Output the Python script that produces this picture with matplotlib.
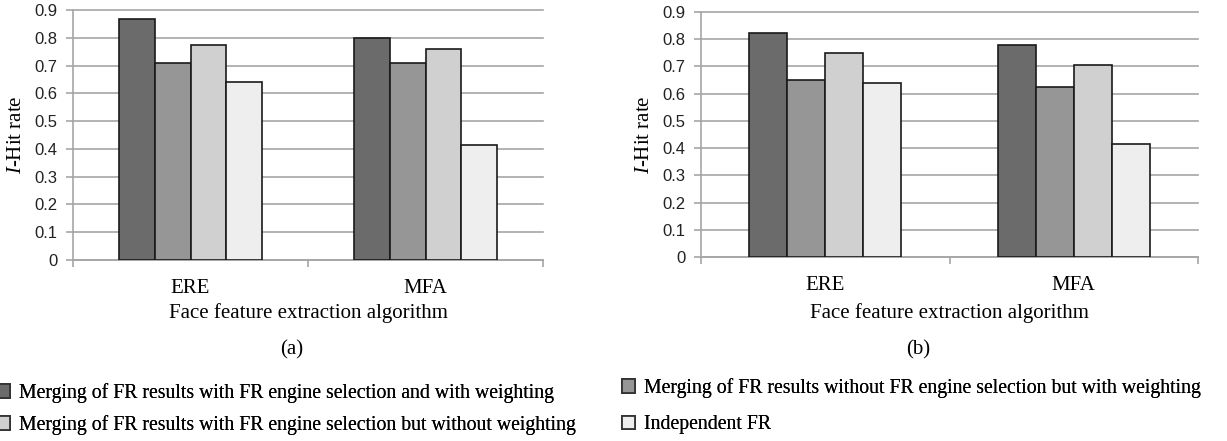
import matplotlib
matplotlib.use("Agg")
import matplotlib.pyplot as plt
from matplotlib.patches import Patch
import numpy as np

categories = ["ERE", "MFA"]
series_names = [
    "Merging of FR results with FR engine selection and with weighting",
    "Merging of FR results without FR engine selection but with weighting",
    "Merging of FR results with FR engine selection but without weighting",
    "Independent FR",
]
values_a = [
    [0.868, 0.800],
    [0.708, 0.708],
    [0.774, 0.758],
    [0.640, 0.415],
]
values_b = [
    [0.823, 0.778],
    [0.652, 0.623],
    [0.750, 0.705],
    [0.640, 0.415],
]
yticks = [0, 0.1, 0.2, 0.3, 0.4, 0.5, 0.6, 0.7, 0.8, 0.9]
ytick_labels = ["0", "0.1", "0.2", "0.3", "0.4", "0.5", "0.6", "0.7", "0.8", "0.9"]
colors = ["#6b6b6b", "#969696", "#d0d0d0", "#eeeeee"]

plt.rcParams["mathtext.fontset"] = "custom"
plt.rcParams["mathtext.it"] = "Liberation Serif:italic"
plt.rcParams["mathtext.rm"] = "Liberation Serif"

W, H = 1227, 441
fig = plt.figure(figsize=(W / 100, H / 100), dpi=100)

SERIF = "Liberation Serif"
SANS = "Liberation Sans"
GRID = "#a6a6a6"
PT = 72 / 100  # points per pixel

def px_axes(x0, x1, ytop, ybot):
    return [x0 / W, 1 - ybot / H, (x1 - x0) / W, (ybot - ytop) / H]

def draw(ax, values):
    n = len(values)
    bw = 0.1525
    x = np.arange(len(categories))
    for i, vals in enumerate(values):
        ax.bar(x + (i - (n - 1) / 2) * bw, vals, width=bw, color=colors[i],
               edgecolor="#1a1a1a", linewidth=1.2, zorder=3)
    ax.set_xlim(-0.5, len(categories) - 0.5)
    ax.set_ylim(0, 0.9)
    ax.set_yticks(yticks)
    ax.set_yticklabels(ytick_labels, fontfamily=SANS, fontsize=12)
    for s in ["top", "right"]:
        ax.spines[s].set_visible(False)
    for s in ["left", "bottom"]:
        ax.spines[s].set_color(GRID)
        ax.spines[s].set_linewidth(1.2)
    ax.yaxis.grid(True, color=GRID, linewidth=1.2, zorder=0)
    for gl in ax.get_ygridlines():
        gl.set_clip_on(False)
    ax.set_axisbelow(True)
    ax.tick_params(axis="y", length=5, color=GRID, width=1.2, pad=6, labelcolor="#222222")
    ax.set_xticks(x)
    ax.set_xticklabels(categories, fontfamily=SERIF, fontsize=15)
    ax.tick_params(axis="x", length=0, pad=19 * PT)
    ax.set_xticks(np.arange(-0.5, len(categories)), minor=True)
    ax.tick_params(axis="x", which="minor", length=7 * PT, color=GRID, width=1.2, direction="out")
    ax.set_ylabel(r"$\mathit{I}$-Hit rate", fontfamily=SERIF, fontsize=15, labelpad=6)
    pos = ax.get_position()
    fig.text((pos.x0 + pos.x1) / 2, 1 - 318 / H, "Face feature extraction algorithm",
             fontfamily=SERIF, fontsize=15, ha="center", va="baseline")

ax1 = fig.add_axes(px_axes(73, 543, 10, 260))
draw(ax1, values_a)
ax2 = fig.add_axes(px_axes(701, 1198, 12, 257))
draw(ax2, values_b)

fig.text(292 / W, 1 - 350 / H, "(a)", fontfamily=SERIF, fontsize=15, ha="center", va="center")
fig.text(918 / W, 1 - 350 / H, "(b)", fontfamily=SERIF, fontsize=15, ha="center", va="center")

positions = [(-3, 393), (622, 388), (-3, 425), (622, 425)]
for i, name in enumerate(series_names):
    h = Patch(facecolor=colors[i], edgecolor="#333333", linewidth=1.3)
    x, y = positions[i]
    leg = fig.legend([h], [name], loc="center left",
                     bbox_to_anchor=(x / W, 1 - y / H), frameon=False,
                     prop={"family": SERIF, "size": 14.2},
                     handlelength=0.65, handleheight=0.65, handletextpad=0.45,
                     borderaxespad=0, borderpad=0)
    fig.add_artist(leg)

fig.savefig("out.png", dpi=100)
